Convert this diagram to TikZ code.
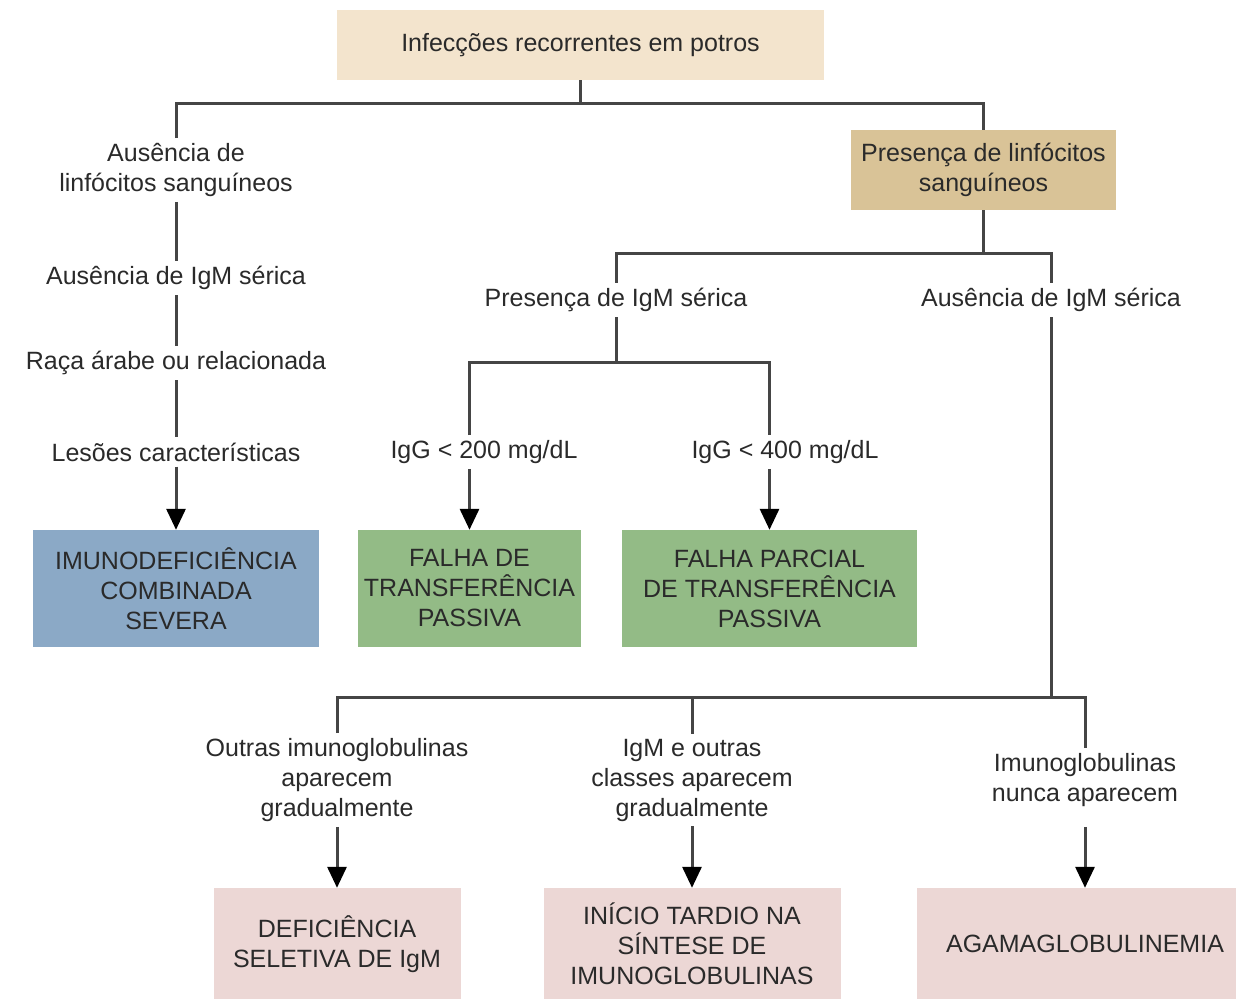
\documentclass[tikz,border=0pt]{standalone}
\usepackage{fontspec}
\setmainfont{Liberation Sans}
\usetikzlibrary{arrows.meta}
\definecolor{beige}{HTML}{F3E4CD}
\definecolor{tanb}{HTML}{D9C397}
\definecolor{blueb}{HTML}{8BA9C6}
\definecolor{greenb}{HTML}{93BB86}
\definecolor{pinkb}{HTML}{ECD7D5}
\definecolor{txt}{HTML}{2A2A2A}
\definecolor{ln}{HTML}{454545}
\begin{document}
\begin{tikzpicture}[x=1pt,y=-1pt,
  every node/.style={font=\fontsize{25}{30}\selectfont, text=txt, align=center},
  colbox/.style={minimum width=#1, minimum height=117, inner sep=0pt},
  lbl/.style={inner sep=5pt},
  conn/.style={draw=ln, line width=3pt},
  arr/.style={conn, -{Triangle[length=21pt,width=19pt,color=black]}}]
\useasboundingbox (0,0) rectangle (1236,998);
\fill[white] (0,0) rectangle (1236,998);

% boxes
\node[fill=beige, minimum width=487, minimum height=70, inner sep=0pt] (top) at (580.5,45) {Infecções recorrentes em potros};
\node[fill=tanb, minimum width=265, minimum height=80, inner sep=0pt] (tan) at (983.5,170) {Presença de linfócitos\\sanguíneos};
\node[fill=blueb, colbox=286] (blue) at (176,588.5) {IMUNODEFICIÊNCIA\\COMBINADA\\SEVERA};
\node[fill=greenb, colbox=223] (g1) at (469.5,588.5) {FALHA DE\\TRANSFERÊNCIA\\PASSIVA};
\node[fill=greenb, colbox=295] (g2) at (769.5,588.5) {FALHA PARCIAL\\DE TRANSFERÊNCIA\\PASSIVA};
\node[fill=pinkb, minimum width=247, minimum height=112, inner sep=0pt] (p1) at (337,944) {DEFICIÊNCIA\\SELETIVA DE IgM};
\node[fill=pinkb, minimum width=297, minimum height=112, inner sep=0pt] (p2) at (692,944) {INÍCIO TARDIO NA\\SÍNTESE DE\\IMUNOGLOBULINAS};
\node[fill=pinkb, minimum width=336, minimum height=112, inner sep=0pt] (p3) at (1085,944) {AGAMAGLOBULINEMIA};

% labels
\node[lbl] (L1) at (176,170) {Ausência de\\linfócitos sanguíneos};
\node[lbl] (L2) at (176,278) {Ausência de IgM sérica};
\node[lbl] (L3) at (176,363) {Raça árabe ou relacionada};
\node[lbl] (L4) at (176,452) {Lesões características};
\node[lbl] (P1) at (616,300) {Presença de IgM sérica};
\node[lbl] (A1) at (1051,300) {Ausência de IgM sérica};
\node[lbl] (G1) at (484,452) {IgG < 200 mg/dL};
\node[lbl] (G2) at (785,452) {IgG < 400 mg/dL};
\node[lbl] (B1) at (337,780) {Outras imunoglobulinas\\aparecem\\gradualmente};
\node[lbl] (B2) at (692,780) {IgM e outras\\classes aparecem\\gradualmente};
\node[lbl] (B3) at (1085,780) {Imunoglobulinas\\nunca aparecem};

\coordinate (j1) at (580.5,103);
\coordinate (j2) at (983.5,253);
\coordinate (j3) at (616,362);
\coordinate (j4) at (1051,697);

% connectors
\draw[conn] (top.south) -- (j1);
\draw[conn] (L1.north) -- (L1.north |- j1) -- (tan.north |- j1) -- (tan.north);
\draw[conn] (L1.south) -- (L2.north);
\draw[conn] (L2.south) -- (L3.north);
\draw[conn] (L3.south) -- (L4.north);
\draw[arr] (L4.south) -- (blue.north);

\draw[conn] (tan.south) -- (j2);
\draw[conn] (P1.north) -- (P1.north |- j2) -- (A1.north |- j2) -- (A1.north);
\draw[conn] (P1.south) -- (j3);
\draw[conn] (g1.north |- G1.north) -- (g1.north |- j3) -- (g2.north |- j3) -- (g2.north |- G2.north);
\draw[arr] (g1.north |- G1.south) -- (g1.north);
\draw[arr] (g2.north |- G2.south) -- (g2.north);

\draw[conn] (A1.south) -- (j4);
\draw[conn] (B1.north) -- (B1.north |- j4) -- (B3.north |- j4) -- (B3.north);
\draw[conn] (B2.north) -- (B2.north |- j4);
\draw[arr] (p1.north |- B1.south) -- (p1.north);
\draw[arr] (p2.north |- B2.south) -- (p2.north);
\draw[arr] (p3.north |- B1.south) -- (p3.north);
\end{tikzpicture}
\end{document}
